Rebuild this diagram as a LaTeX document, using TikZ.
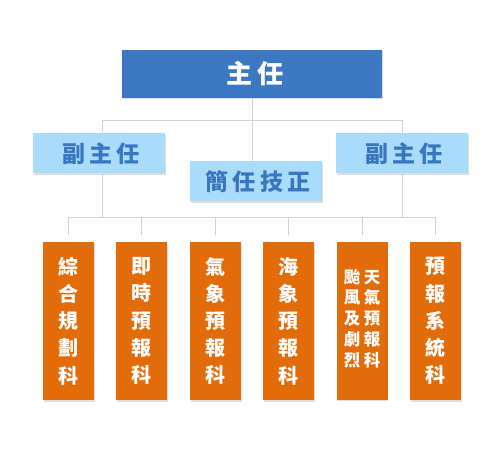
\documentclass[tikz,border=0pt]{standalone}
\usepackage{fontspec}
\newfontfamily\tc{Noto Sans CJK TC}
\usetikzlibrary{shadows,backgrounds}
\definecolor{topblue}{HTML}{3B78C1}
\definecolor{lightblue}{HTML}{A8DCFA}
\definecolor{deptext}{HTML}{3A76BF}
\definecolor{kaorange}{HTML}{E36C0A}
\definecolor{linegray}{HTML}{D2D2D2}
\tikzset{
  boxshadow/.style={drop shadow={shadow xshift=0.8pt, shadow yshift=-1.6pt, opacity=0.28, fill=black!45}},
  topbox/.style={boxshadow, fill=topblue, text=white, minimum width=260pt, minimum height=47.5pt, inner sep=0pt,
    font=\tc\bfseries\fontsize{26}{30}\selectfont\addfontfeatures{LetterSpace=20}},
  depbox/.style={boxshadow, fill=lightblue, text=deptext, minimum width=132pt, minimum height=40pt, inner sep=0pt,
    font=\tc\bfseries\fontsize{23}{27}\selectfont\addfontfeatures{LetterSpace=18}},
  kebox/.style={boxshadow, fill=kaorange, text=white, minimum width=51pt, minimum height=158pt, inner sep=0pt,
    align=center, font=\tc\bfseries\fontsize{20}{27.2}\selectfont},
  conn/.style={draw=linegray, line width=0.9pt},
}
\begin{document}
\begin{tikzpicture}[x=1pt,y=-1pt]
\useasboundingbox (0,0) rectangle (500,450);
% nodes
\node[topbox] (zr) at (252.3,73.8) {\hspace{5pt}主任};
\node[depbox] (dl) at (99,153.3) {\hspace{4pt}副主任};
\node[depbox] (dr) at (402,153.3) {\hspace{4pt}副主任};
\node[depbox] (jz) at (256,181.2) {\hspace{4pt}簡任技正};
\node[kebox] (k1) at (68.5,321) {綜\\合\\規\\劃\\科};
\node[kebox] (k2) at (141.8,321) {即\\時\\預\\報\\科};
\node[kebox] (k3) at (215.3,321) {氣\\象\\預\\報\\科};
\node[kebox] (k4) at (288.6,321) {海\\象\\預\\報\\科};
\node[kebox, font=\tc\bfseries\fontsize{16.5}{20.7}\selectfont] (k5) at (362,320.5)
  {\begin{tabular}{@{}c@{\hspace{3.5pt}}c@{}}颱&天\\風&氣\\及&預\\劇&報\\烈&科\end{tabular}};
\node[kebox] (k6) at (435.3,321) {預\\報\\系\\統\\科};
% junction points
\coordinate (b1) at (102.3,120.3);
\coordinate (b2) at (dr.north |- b1);
\coordinate (b3) at (102.3,217.3);
\coordinate (b4) at (dr.south |- b3);
\coordinate (bl) at (k1.north |- b3);
\coordinate (br) at (k6.north |- b3);
% connectors behind the boxes
\begin{scope}[on background layer]
\fill[white] (0,0) rectangle (500,450);
\draw[conn] (zr.south) -- (zr.south |- jz.north);
\draw[conn] (b1) -- (b2);
\draw[conn] (b1) -- (b1 |- dl.north);
\draw[conn] (b2) -- (dr.north);
\draw[conn] (b1 |- dl.south) -- (b3);
\draw[conn] (dr.south) -- (b4);
\draw[conn] (bl) -- (br);
\foreach \k in {k1,k2,k3,k4,k5,k6}{
  \draw[conn, shorten >=6.5pt] (\k.north |- b3) -- (\k.north);
}
\end{scope}
\end{tikzpicture}
\end{document}
